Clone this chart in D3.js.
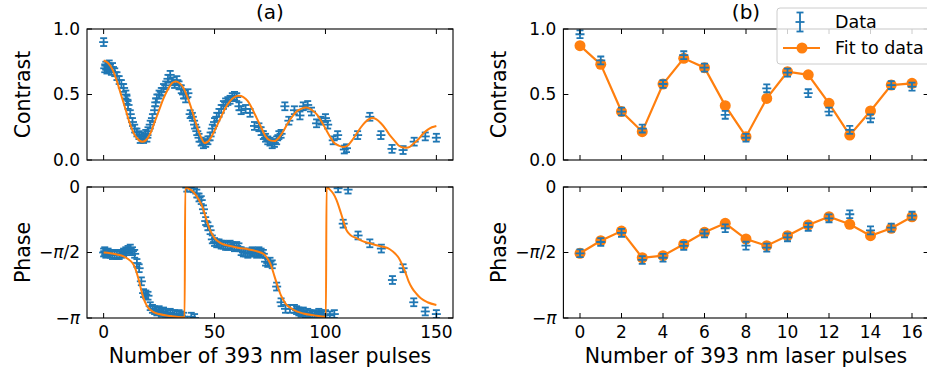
<!DOCTYPE html>
<html><head><meta charset="utf-8">
<script src="https://cdn.jsdelivr.net/npm/d3@7"></script>
<style>
body{margin:0;background:#fff;}
text{font-family:"DejaVu Sans",sans-serif;fill:#000;}
</style></head>
<body>
<svg id="chart" width="927" height="374"></svg>
<script>
// ---------- DATA ----------
// (a) contrast data [pulses, contrast]
const aContrastData = [
[0,0.90],[0.5,0.70],[1,0.72],[1.5,0.69],[2,0.71],[2.5,0.73],[3,0.70],[3.5,0.68],[4,0.71],[5,0.67],[6,0.64],[7,0.61],[8,0.58],[9,0.55],[10,0.50],[10.5,0.46],[11,0.42],[12,0.35],[13,0.29],[14,0.24],[15,0.21],[16,0.19],[16.5,0.16],[17,0.18],[18,0.16],[19,0.20],[19.5,0.17],[20,0.22],[21,0.27],[22,0.32],[23,0.38],[23.5,0.44],[24,0.47],[25,0.50],[26,0.52],[27,0.55],[28,0.57],[29,0.62],[30,0.65],[31,0.60],[32,0.58],[33,0.61],[34,0.57],[35,0.54],[36,0.50],[37,0.47],[38,0.51],[39,0.35],[40,0.33],[41,0.27],[42,0.22],[43,0.17],[44,0.14],[45,0.12],[46,0.13],[47,0.15],[48,0.18],[49,0.24],[50,0.29],[51,0.33],[52,0.36],[53,0.39],[54,0.42],[55,0.44],[56,0.45],[57,0.46],[58,0.48],[59,0.49],[60,0.48],[61,0.41],[62,0.38],[64,0.39],[66,0.36],[68,0.26],[70,0.25],[71,0.22],[72,0.19],[73,0.17],[74,0.15],[75,0.14],[76,0.12],[77,0.13],[78,0.15],[79,0.19],[80,0.20],[81.7,0.41],[83.5,0.30],[86,0.38],[88.5,0.34],[90,0.41],[92,0.42],[93.7,0.37],[96,0.28],[98,0.30],[100,0.32],[101,0.27],[103.5,0.15],[105.5,0.19],[108.5,0.08],[109.5,0.09],[114.5,0.19],[120,0.33],[125,0.19],[130,0.085],[135,0.076],[140,0.14],[145,0.18],[150,0.17]
];
// (a) contrast fit [pulses, contrast]
const aContrastFit = [
[0,0.76],[2,0.74],[4,0.69],[6,0.60],[8,0.49],[10,0.38],[12,0.27],[14,0.19],[16,0.15],[17.5,0.14],[19,0.15],[21,0.20],[23,0.29],[25,0.38],[27,0.47],[29,0.54],[31,0.59],[32.5,0.60],[34,0.59],[36,0.55],[38,0.47],[40,0.37],[42,0.26],[44,0.17],[45.5,0.13],[47,0.14],[49,0.19],[51,0.26],[53,0.33],[55,0.40],[57,0.45],[59,0.48],[61,0.49],[63,0.48],[65,0.45],[67,0.39],[69,0.32],[71,0.25],[73,0.18],[75,0.15],[77,0.145],[79,0.17],[81,0.22],[83,0.28],[85,0.33],[87,0.37],[89,0.39],[91.5,0.40],[94,0.38],[96,0.35],[98,0.30],[100,0.24],[102,0.18],[104,0.13],[106,0.11],[108,0.10],[110,0.11],[112,0.15],[114,0.20],[116,0.25],[118,0.29],[120,0.315],[121,0.32],[123,0.31],[125,0.28],[127,0.24],[129,0.19],[131,0.15],[133,0.11],[135,0.095],[136.5,0.094],[138,0.10],[140,0.13],[142,0.16],[144,0.20],[146,0.23],[148,0.25],[150,0.26]
];
// (a) phase data [pulses, phase / pi]
const aPhaseData = [
[0,-0.50],[0.5,-0.49],[1,-0.51],[2,-0.50],[3,-0.51],[4,-0.52],[5,-0.51],[6,-0.52],[7,-0.52],[8,-0.51],[9,-0.50],[10,-0.49],[11,-0.48],[12,-0.47],[13,-0.49],[14,-0.51],[15,-0.58],[16,-0.62],[17,-0.72],[18,-0.81],[19,-0.82],[20,-0.83],[21,-0.91],[22,-0.93],[23,-0.94],[24,-0.95],[25,-0.94],[26,-0.96],[27,-0.95],[28,-0.96],[29,-0.97],[30,-0.96],[31,-0.97],[32,-0.97],[33,-0.98],[34,-0.97],[35,-0.98],[36,-0.99],[37.5,-0.005],[39,-0.005],[39.5,-0.99],[40.5,-0.01],[41,-1.0],[42,-0.05],[43,-0.08],[44,-0.10],[45,-0.17],[46,-0.26],[47,-0.30],[48,-0.33],[49,-0.40],[50,-0.42],[51,-0.43],[52,-0.43],[53,-0.44],[54,-0.44],[55,-0.45],[56,-0.45],[57,-0.44],[58,-0.45],[59,-0.46],[60,-0.45],[61,-0.46],[62,-0.49],[63,-0.50],[64,-0.50],[65,-0.51],[66,-0.50],[67,-0.49],[68,-0.50],[69,-0.51],[70,-0.49],[71,-0.50],[72,-0.51],[73,-0.57],[74,-0.58],[75,-0.57],[76,-0.59],[78,-0.76],[80,-0.88],[82,-0.93],[84,-0.93],[86,-0.93],[87,-0.94],[88,-0.95],[89,-0.96],[90,-0.95],[91,-0.97],[92,-0.96],[93,-0.97],[94,-0.98],[95,-0.97],[96,-0.98],[97,-0.96],[98,-0.97],[99,-0.98],[100,-0.97],[102,-0.98],[104,-0.97],[105.7,-0.01],[108,-0.28],[110.2,-0.02],[114.7,-0.37],[120,-0.43],[125.2,-0.47],[130.2,-0.71],[135,-0.62],[139.8,-0.88],[145,-0.95],[150,-0.97]
];
// (a) phase fit [pulses, phase / pi]
const aPhaseFit = [
[0,-0.50],[3,-0.505],[6,-0.515],[9,-0.53],[11,-0.55],[13,-0.58],[14,-0.61],[15,-0.66],[16,-0.72],[17,-0.79],[18,-0.85],[19,-0.89],[20,-0.92],[22,-0.95],[25,-0.97],[30,-0.985],[36.5,-0.995],[36.8,0.0],[38,-0.01],[40,-0.03],[41.5,-0.06],[43,-0.10],[44.5,-0.15],[46,-0.23],[48,-0.33],[50,-0.39],[53,-0.43],[57,-0.45],[61,-0.465],[65,-0.475],[69,-0.49],[72,-0.51],[74,-0.55],[75.5,-0.60],[77,-0.68],[78.5,-0.76],[80,-0.83],[82,-0.89],[84,-0.92],[87,-0.95],[90,-0.965],[95,-0.98],[100.2,-0.99],[100.5,0.0],[102,-0.02],[103.5,-0.05],[105,-0.10],[107,-0.20],[109.5,-0.33],[111.5,-0.37],[114,-0.39],[117,-0.415],[120,-0.43],[123,-0.445],[126,-0.456],[129,-0.475],[131.5,-0.51],[133,-0.54],[134.5,-0.59],[136,-0.65],[137.5,-0.72],[139,-0.77],[141,-0.815],[143,-0.85],[146,-0.88],[150,-0.90]
];
// (b)
const bPulses = [0,1,2,3,4,5,6,7,8,9,10,11,12,13,14,15,16];
const bContrastData = [0.96,0.76,0.37,0.24,0.58,0.80,0.705,0.345,0.17,0.547,0.667,0.51,0.37,0.23,0.318,0.572,0.56];
const bContrastFit  = [0.873,0.73,0.37,0.216,0.58,0.776,0.705,0.415,0.178,0.47,0.674,0.65,0.433,0.19,0.374,0.572,0.585];
const bPhaseData = [-0.506,-0.42,-0.35,-0.557,-0.54,-0.45,-0.355,-0.315,-0.448,-0.463,-0.384,-0.305,-0.239,-0.208,-0.331,-0.31,-0.219]; // units of pi
const bPhaseFit  = [-0.506,-0.41,-0.336,-0.54,-0.524,-0.437,-0.346,-0.277,-0.397,-0.448,-0.372,-0.29,-0.227,-0.285,-0.372,-0.315,-0.227];
const contrastErr = 0.03;
const phaseErr = 0.03;
const aXTicks = [0,50,100,150];
const bXTicks = [0,2,4,6,8,10,12,14,16];
const contrastTicks = [0,0.5,1];
const contrastTickLabels = ["0.0","0.5","1.0"];
const phaseTicks = [-1,-0.5,0];
const xLabel = "Number of 393 nm laser pulses";

// ---------- DRAW ----------
const blue = "#1f77b4", orange = "#ff7f0e";
const svg = d3.select("#chart");
svg.append("rect").attr("width",927).attr("height",374).attr("fill","#fff");

const panelTop = {y0:29, y1:160}, panelBot = {y0:187, y1:318};
const xA = d3.scaleLinear().domain([-7.5,157.5]).range([87,453]);
const xB = d3.scaleLinear().domain([-0.8,16.8]).range([563.4,928.6]);
const yC = d3.scaleLinear().domain([0,1]).range([panelTop.y1,panelTop.y0]);
const yP = d3.scaleLinear().domain([-1,0]).range([panelBot.y1,panelBot.y0]);

let clipId = 0;
function panel(x, y) {
  const id = "clip"+(clipId++);
  const [xa,xb] = x.range(), [ya,yb] = y.range();
  svg.append("clipPath").attr("id",id).append("rect")
    .attr("x",xa).attr("y",yb).attr("width",xb-xa).attr("height",ya-yb);
  const g = svg.append("g");
  const inner = g.append("g").attr("clip-path","url(#"+id+")");
  return {g, inner, xa, xb, ya, yb};
}

function errorbars(g, pts, x, y, err) {
  const eg = g.append("g").attr("stroke",blue).attr("stroke-width",1.8).attr("fill","none");
  pts.forEach(([px,py]) => {
    const cx = x(px), top = y(py+err), bot = y(py-err), cy = y(py);
    eg.append("line").attr("x1",cx).attr("x2",cx).attr("y1",top).attr("y2",bot);
    eg.append("line").attr("x1",cx-3.5).attr("x2",cx+3.5).attr("y1",top).attr("y2",top);
    eg.append("line").attr("x1",cx-3.5).attr("x2",cx+3.5).attr("y1",bot).attr("y2",bot);
    eg.append("line").attr("x1",cx-4.5).attr("x2",cx+4.5).attr("y1",cy).attr("y2",cy);
  });
}

function axes(p, x, y, xt, yt, ytFormat, showXLabels) {
  const tl = 5;
  const ax = p.g.append("g").attr("stroke","#000").attr("stroke-width",1);
  xt.forEach(t => {
    const px = x(t);
    ax.append("line").attr("x1",px).attr("x2",px).attr("y1",p.ya).attr("y2",p.ya-tl);
    ax.append("line").attr("x1",px).attr("x2",px).attr("y1",p.yb).attr("y2",p.yb+tl);
  });
  yt.forEach(t => {
    const py = y(t);
    ax.append("line").attr("x1",p.xa).attr("x2",p.xa+tl).attr("y1",py).attr("y2",py);
    ax.append("line").attr("x1",p.xb).attr("x2",p.xb-tl).attr("y1",py).attr("y2",py);
  });
  p.g.append("rect").attr("x",p.xa).attr("y",p.yb).attr("width",p.xb-p.xa).attr("height",p.ya-p.yb)
    .attr("fill","none").attr("stroke","#000").attr("stroke-width",1.1);
  if (showXLabels) {
    xt.forEach(t => p.g.append("text").attr("x",x(t)).attr("y",p.ya+6).attr("dy","0.8em")
      .attr("text-anchor","middle").attr("font-size",17).text(t));
  }
  yt.forEach((t,i) => ytFormat(p.g.append("text").attr("x",p.xa-7).attr("y",y(t)).attr("dy","0.35em")
      .attr("text-anchor","end").attr("font-size",17), t, i));
}

function contrastFmt(sel, t, i){ sel.text(contrastTickLabels[i]); }
function phaseFmt(sel, t){
  if (t===0) { sel.text("0"); return; }
  sel.append("tspan").text("\u2212");
  sel.append("tspan").attr("font-style","italic").text("\u03c0");
  if (t===-0.5) sel.append("tspan").text("/2");
}

const lineC = (x) => d3.line().x(d=>x(d[0])).y(d=>yC(d[1])).curve(d3.curveMonotoneX);
const lineP = (x) => d3.line().x(d=>x(d[0])).y(d=>yP(d[1])).curve(d3.curveMonotoneX);

// (a) top
const pa1 = panel(xA, yC);
errorbars(pa1.inner, aContrastData, xA, yC, contrastErr);
pa1.inner.append("path").datum(aContrastFit).attr("d", lineC(xA)).attr("fill","none").attr("stroke",orange).attr("stroke-width",2);
axes(pa1, xA, yC, aXTicks, contrastTicks, contrastFmt, false);
// (a) bottom
const pa2 = panel(xA, yP);
errorbars(pa2.inner, aPhaseData, xA, yP, phaseErr);
pa2.inner.append("path").datum(aPhaseFit).attr("d", lineP(xA)).attr("fill","none").attr("stroke",orange).attr("stroke-width",2);
axes(pa2, xA, yP, aXTicks, phaseTicks, phaseFmt, true);

// (b) top
const bCD = bPulses.map((p,i)=>[p,bContrastData[i]]);
const bCF = bPulses.map((p,i)=>[p,bContrastFit[i]]);
const bPD = bPulses.map((p,i)=>[p,bPhaseData[i]]);
const bPF = bPulses.map((p,i)=>[p,bPhaseFit[i]]);
const pb1 = panel(xB, yC);
pb1.inner.append("path").datum(bCF).attr("d", d3.line().x(d=>xB(d[0])).y(d=>yC(d[1]))).attr("fill","none").attr("stroke",orange).attr("stroke-width",2.2);
pb1.inner.selectAll("circle").data(bCF).join("circle").attr("cx",d=>xB(d[0])).attr("cy",d=>yC(d[1])).attr("r",5.5).attr("fill",orange);
errorbars(pb1.inner, bCD, xB, yC, contrastErr);
axes(pb1, xB, yC, bXTicks, contrastTicks, contrastFmt, false);
// (b) bottom
const pb2 = panel(xB, yP);
pb2.inner.append("path").datum(bPF).attr("d", d3.line().x(d=>xB(d[0])).y(d=>yP(d[1]))).attr("fill","none").attr("stroke",orange).attr("stroke-width",2.2);
pb2.inner.selectAll("circle").data(bPF).join("circle").attr("cx",d=>xB(d[0])).attr("cy",d=>yP(d[1])).attr("r",5.5).attr("fill",orange);
errorbars(pb2.inner, bPD, xB, yP, phaseErr);
axes(pb2, xB, yP, bXTicks, phaseTicks, phaseFmt, true);

// titles and labels
[[xA,"(a)"],[xB,"(b)"]].forEach(([x,t])=>{
  const [a,b] = x.range();
  svg.append("text").attr("x",(a+b)/2).attr("y",19).attr("text-anchor","middle").attr("font-size",20).text(t);
  svg.append("text").attr("x",(a+b)/2).attr("y",363).attr("text-anchor","middle").attr("font-size",20.5).text(xLabel);
});
[[87,"Contrast",(29+160)/2],[87,"Phase",(187+318)/2],[563.4,"Contrast",(29+160)/2],[563.4,"Phase",(187+318)/2]].forEach(([x0,t,yc])=>{
  svg.append("text").attr("transform",`translate(${x0-57},${yc}) rotate(-90)`).attr("text-anchor","middle").attr("font-size",20.5).text(t);
});

// legend
const lg = svg.append("g");
lg.append("rect").attr("x",777).attr("y",8).attr("width",160).attr("height",56).attr("rx",3)
  .attr("fill","#fff").attr("fill-opacity",0.8).attr("stroke","#ccc");
errorbars(lg, [[0,0]], d3.scaleLinear().domain([0,1]).range([800,801]), d3.scaleLinear().domain([-1,1]).range([32,12]), 0.95);
lg.append("text").attr("x",835).attr("y",28).attr("font-size",17.5).text("Data");
lg.append("line").attr("x1",783).attr("x2",820).attr("y1",48).attr("y2",48).attr("stroke",orange).attr("stroke-width",2.2);
lg.append("circle").attr("cx",802).attr("cy",48).attr("r",5.5).attr("fill",orange);
lg.append("text").attr("x",835).attr("y",54).attr("font-size",17.5).text("Fit to data");
</script>
</body></html>
